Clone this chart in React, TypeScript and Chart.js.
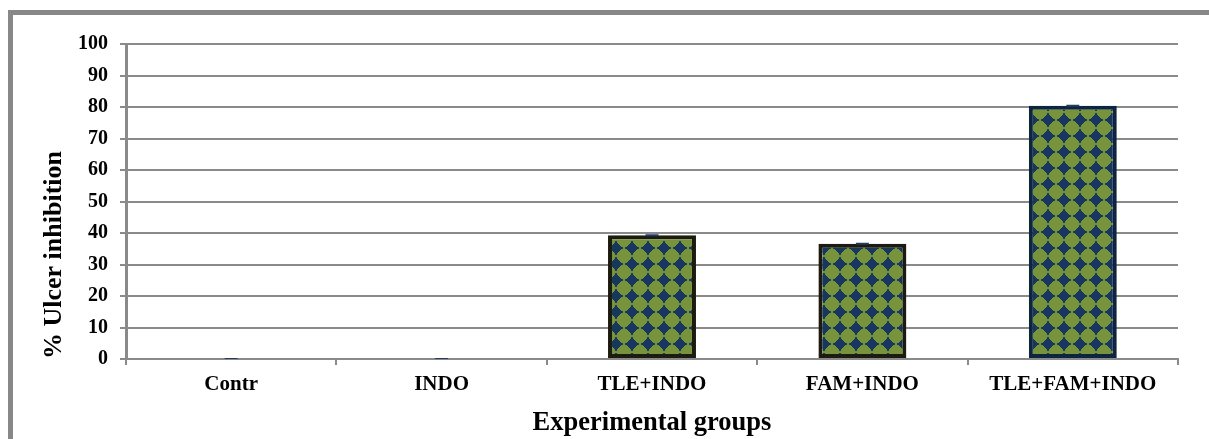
import React, { useEffect, useRef } from "react";
import { Chart, registerables } from "chart.js";

Chart.register(...registerables);

const categories = ["Contr", "INDO", "TLE+INDO", "FAM+INDO", "TLE+FAM+INDO"];
const ulcerInhibition = [0, 0, 39.3, 36.6, 80.4];
const barBorderColors = ["#1D1B10", "#1D1B10", "#1D1B10", "#1D1B10", "#0F243E"];
const yTicksMax = 100;
const yTickStep = 10;

const GREEN = "#77933C";
const NAVY = "#17375E";
const GRID = "#8A8A8A";
const FONT = "'Liberation Serif', 'Times New Roman', serif";

function makePattern(): CanvasPattern | string {
  const c = document.createElement("canvas");
  c.width = 16;
  c.height = 16;
  const ctx = c.getContext("2d");
  if (!ctx) return GREEN;
  ctx.fillStyle = GREEN;
  ctx.fillRect(0, 0, 16, 16);
  ctx.fillStyle = NAVY;
  for (let y = 0; y < 16; y++) {
    for (let x = 0; x < 16; x++) {
      const ax = Math.abs(x + 0.5 - 8);
      const ay = Math.abs(y + 0.5 - 8);
      if (ax + ay <= 6 || (ax < 1 && ay < 7) || (ay < 1 && ax < 7)) ctx.fillRect(x, y, 1, 1);
    }
  }
  return ctx.createPattern(c, "repeat") || GREEN;
}

export default function App() {
  const ref = useRef<HTMLCanvasElement>(null);

  useEffect(() => {
    if (!ref.current) return;
    const pattern = makePattern();
    const chart = new Chart(ref.current, {
      type: "bar",
      data: {
        labels: categories,
        datasets: [
          {
            type: "line",
            label: "cap",
            data: ulcerInhibition,
            showLine: false,
            pointStyle: "line",
            pointRadius: 6.5,
            pointHoverRadius: 6.5,
            pointBorderColor: "#1F3D66",
            pointBorderWidth: 2,
            order: 0,
          } as any,
          {
            type: "bar",
            label: "% Ulcer inhibition",
            data: ulcerInhibition,
            backgroundColor: pattern as any,
            borderColor: barBorderColors,
            borderWidth: 4,
            borderSkipped: false,
            barPercentage: 0.418,
            categoryPercentage: 1,
            order: 1,
          },
        ],
      },
      options: {
        animation: false,
        responsive: false,
        maintainAspectRatio: false,
        events: [],
        layout: { padding: { top: 44, right: 31, left: 0, bottom: 0 } },
        plugins: {
          legend: { display: false },
          tooltip: { enabled: false },
        },
        scales: {
          x: {
            grid: {
              display: true,
              drawOnChartArea: false,
              drawTicks: true,
              tickLength: 6,
              color: GRID,
              lineWidth: 2,
            },
            border: { display: true, color: GRID, width: 2 },
            ticks: {
              color: "#000",
              padding: 7,
              font: { family: FONT, size: 21, weight: "bold" },
            },
            title: {
              display: true,
              text: "Experimental groups",
              color: "#000",
              font: { family: FONT, size: 26.5, weight: "bold" },
              padding: { top: 0, bottom: 0 },
            },
            afterFit: (s: any) => {
              s.height = 80;
            },
          },
          y: {
            min: 0,
            max: yTicksMax,
            ticks: {
              stepSize: yTickStep,
              color: "#000",
              padding: 12,
              font: { family: FONT, size: 20, weight: "bold" },
            },
            grid: {
              color: GRID,
              lineWidth: 2,
              drawTicks: true,
              tickLength: 6,
            },
            border: { display: true, color: GRID, width: 3 },
            title: {
              display: true,
              text: "% Ulcer inhibition",
              align: "start",
              color: "#000",
              font: { family: FONT, size: 26, weight: "bold" },
              padding: { top: 39, bottom: 0 },
            },
            afterFit: (s: any) => {
              s.width = 126;
            },
          },
        },
      },
    });
    return () => chart.destroy();
  }, []);

  return (
    <div
      style={{
        position: "fixed",
        left: 0,
        top: 0,
        width: 1209,
        height: 439,
        overflow: "hidden",
        background: "#fff",
      }}
    >
      <div
        style={{
          position: "absolute",
          left: 8,
          top: 10,
          width: 3000,
          height: 3000,
          borderTop: "5px solid #888888",
          borderLeft: "5px solid #888888",
        }}
      />
      <canvas
        ref={ref}
        width={1209}
        height={439}
        style={{ position: "absolute", left: 0, top: 0, width: 1209, height: 439 }}
      />
    </div>
  );
}
